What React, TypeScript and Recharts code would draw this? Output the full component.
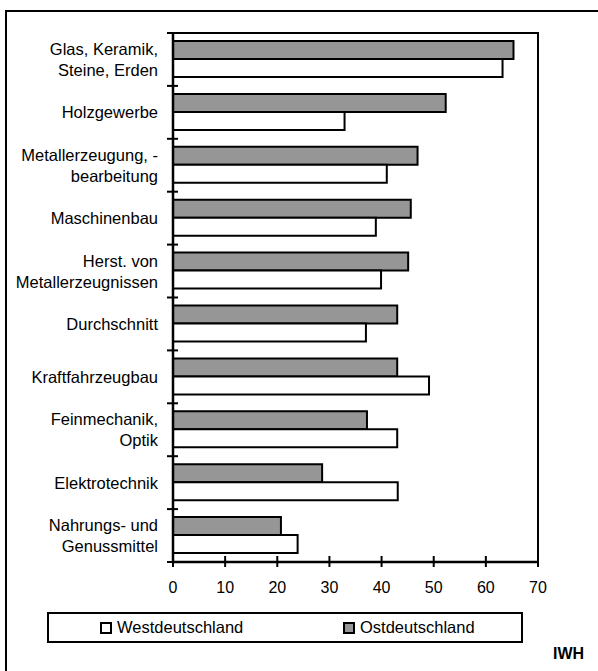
import React from 'react';
import { BarChart, Bar, XAxis, YAxis, ReferenceLine } from 'recharts';

const categories = [
  'Glas, Keramik,\nSteine, Erden',
  'Holzgewerbe',
  'Metallerzeugung, -\nbearbeitung',
  'Maschinenbau',
  'Herst. von\nMetallerzeugnissen',
  'Durchschnitt',
  'Kraftfahrzeugbau',
  'Feinmechanik,\nOptik',
  'Elektrotechnik',
  'Nahrungs- und\nGenussmittel',
];
const ostValues = [65.3, 52.3, 46.9, 45.6, 45.1, 43, 43, 37.2, 28.6, 20.7];
const westValues = [63.2, 32.9, 41, 38.9, 39.9, 37, 49.1, 43, 43.1, 23.9];
const xTicks = [0, 10, 20, 30, 40, 50, 60, 70];

const FONT = '"Liberation Sans", Arial, sans-serif';
const W = 598;
const H = 671;
const PLOT_LEFT = 173;
const PLOT_RIGHT = 538;
const PLOT_TOP = 33;
const PLOT_BOTTOM = 562;
const BAND = (PLOT_BOTTOM - PLOT_TOP) / categories.length;

const data = categories.map((name, i) => ({ name, ost: ostValues[i], west: westValues[i] }));

const YTick = (props: any) => {
  const { y, payload, index } = props;
  const lines = String(payload.value).split('\n');
  const top = y - BAND / 2;
  return (
    <g>
      <line x1={PLOT_LEFT - 6} x2={PLOT_LEFT + 5} y1={top} y2={top} stroke="#000" strokeWidth={2} />
      {index === categories.length - 1 && (
        <line x1={PLOT_LEFT - 6} x2={PLOT_LEFT + 5} y1={y + BAND / 2} y2={y + BAND / 2} stroke="#000" strokeWidth={2} />
      )}
      {lines.map((l, i) => (
        <text key={i} x={158} y={y + 6 + (i - (lines.length - 1) / 2) * 21} textAnchor="end"
          fontSize={16.5} fontFamily={FONT} fill="#000">{l}</text>
      ))}
    </g>
  );
};

const XTick = (props: any) => {
  const { x, payload } = props;
  return (
    <g>
      <line x1={x} x2={x} y1={PLOT_BOTTOM - 6} y2={PLOT_BOTTOM + 5} stroke="#000" strokeWidth={2} />
      <text x={x} y={593} textAnchor="middle" fontSize={16} fontFamily={FONT} fill="#000">{payload.value}</text>
    </g>
  );
};

const Swatch = ({ fill }: { fill: string }) => (
  <span style={{ display: 'inline-block', width: 12, height: 12, boxSizing: 'border-box', border: '2.5px solid #000', background: fill, marginRight: 5, verticalAlign: '-1px' }} />
);

export default function App() {
  return (
    <div style={{ position: 'absolute', left: 0, top: 0, width: W, height: H, background: '#fff', overflow: 'hidden', fontFamily: FONT }}>
      <div style={{ position: 'absolute', left: 5, top: 10, width: W, height: H, borderLeft: '2px solid #000', borderTop: '2px solid #000' }} />
      <div style={{ position: 'absolute', left: 0, top: 0 }}>
        <BarChart
          width={W}
          height={H}
          data={data}
          layout="vertical"
          margin={{ top: PLOT_TOP, right: W - PLOT_RIGHT, left: 0, bottom: H - PLOT_BOTTOM - 30 }}
          barSize={18}
          barGap={0}
        >
          <XAxis type="number" domain={[0, 70]} ticks={xTicks} tick={<XTick />} tickLine={false}
            axisLine={{ stroke: '#000', strokeWidth: 2.5 }} height={30} interval={0} />
          <YAxis type="category" dataKey="name" width={PLOT_LEFT} tick={<YTick />} tickLine={false}
            axisLine={{ stroke: '#000', strokeWidth: 2.5 }} interval={0} />
          <ReferenceLine x={70} stroke="#000" strokeWidth={2} />
          <Bar dataKey="ost" fill="#969696" stroke="#000" strokeWidth={2} isAnimationActive={false} />
          <Bar dataKey="west" fill="#fff" stroke="#000" strokeWidth={2} isAnimationActive={false} />
        </BarChart>
      </div>
      {/* top edge of the plot frame, on top of the chart */}
      <div style={{ position: 'absolute', zIndex: 5, left: PLOT_LEFT, top: PLOT_TOP - 1, width: PLOT_RIGHT - PLOT_LEFT + 1, height: 2, background: '#000' }} />
      <div style={{ position: 'absolute', left: 47, top: 612, width: 476, height: 31, boxSizing: 'border-box', border: '2px solid #000', fontSize: 16.5, color: '#000' }}>
        <div style={{ position: 'absolute', left: 51, top: 4, whiteSpace: 'nowrap' }}><Swatch fill="#fff" />Westdeutschland</div>
        <div style={{ position: 'absolute', left: 294, top: 4, whiteSpace: 'nowrap' }}><Swatch fill="#969696" />Ostdeutschland</div>
      </div>
      <div style={{ position: 'absolute', left: 553, top: 645, fontSize: 16, fontWeight: 'bold', color: '#000' }}>IWH</div>
    </div>
  );
}
